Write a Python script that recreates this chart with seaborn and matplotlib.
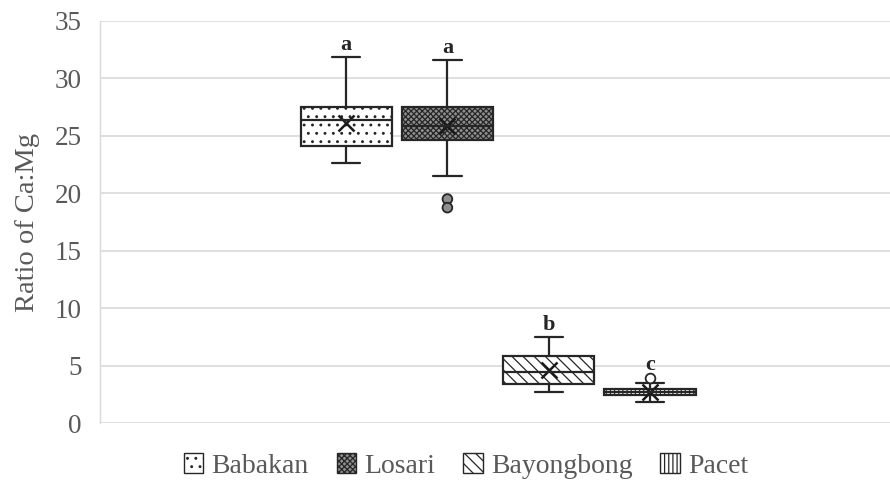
import numpy as np
import pandas as pd
import seaborn as sns
import matplotlib.pyplot as plt
from matplotlib.patches import Patch

# Five-number summaries of the Ca:Mg ratio per site
sites = ["Babakan", "Losari", "Bayongbong", "Pacet"]
whisker_low = [22.6, 21.5, 2.7, 1.8]
q1 = [24.1, 24.6, 3.4, 2.4]
median = [26.4, 25.9, 4.4, 2.7]
q3 = [27.5, 27.5, 5.8, 3.0]
whisker_high = [31.85, 31.6, 7.5, 3.5]
means = [26.1, 25.9, 4.6, 2.7]

# Points beyond the whiskers
outlier_site = ["Losari", "Losari", "Pacet"]
outlier_value = [19.5, 18.75, 3.95]

# Significance letters
letters = ["a", "a", "b", "c"]

face = {"Babakan": "white", "Losari": "#8f8f8f", "Bayongbong": "white", "Pacet": "white"}
hatch = {"Babakan": "..", "Losari": "xxxxxx", "Bayongbong": "\\\\\\", "Pacet": "||||"}
line_col = "#262626"
text_col = "#595959"

sns.set_theme(style="white")
plt.rcParams["font.family"] = ["Liberation Serif", "DejaVu Serif"]
plt.rcParams["hatch.linewidth"] = 0.9

summary = pd.DataFrame({
    "site": sites,
    "low": whisker_low,
    "q1": q1,
    "median": median,
    "q3": q3,
    "high": whisker_high,
})
long = summary.melt(id_vars="site", value_vars=["low", "q1", "median", "q3", "high"],
                    value_name="ratio")

fig = plt.figure(figsize=(8.9, 4.98), dpi=100)
ax = fig.add_axes([100 / 890, 1 - 423 / 498, 790 / 890, 402 / 498])

sns.boxplot(data=long, x="site", y="ratio", hue="site", order=sites, hue_order=sites,
            palette=face, whis=(0, 100), width=0.9, linecolor=line_col, linewidth=1.6,
            showfliers=False, legend=False, ax=ax, capwidths=0.28)

# Apply the fill patterns to each box
for p in ax.patches:
    xc = p.get_path().vertices[:, 0].mean()
    idx = int(round(xc))
    if 0 <= idx < len(sites):
        p.set_hatch(hatch[sites[idx]])
        p.set_edgecolor(line_col)

# Mean markers
sns.pointplot(x=sites, y=means, order=sites, marker="x", linestyle="none",
              color="#1a1a1a", markersize=11, markeredgewidth=1.8,
              errorbar=None, ax=ax)

# Outliers
sns.stripplot(x=outlier_site, y=outlier_value, order=sites, hue=outlier_site,
              palette=face, jitter=False, size=7, edgecolor=line_col, linewidth=1.3,
              legend=False, ax=ax)

# Letters above each box
for i, s in enumerate(sites):
    tops = [whisker_high[i]] + [v for o, v in zip(outlier_site, outlier_value) if o == s]
    ax.text(i, max(tops) + 0.2, letters[i], ha="center", va="bottom",
            fontsize=16, fontweight="bold", color=line_col)

ax.set_xlim(-2.43, 5.37)
ax.set_ylim(0, 35)
ax.set_yticks(np.arange(0, 36, 5))
ax.set_xticks([])
ax.set_xlabel("")
ax.set_ylabel("Ratio of Ca:Mg", fontsize=20.5, color=text_col, labelpad=11)
ax.tick_params(axis="y", labelsize=19.5, labelcolor=text_col, length=0, pad=13)
ax.yaxis.grid(True, color="#d9d9d9", linewidth=1.2)
ax.set_axisbelow(True)
for side in ["top", "right", "bottom"]:
    ax.spines[side].set_visible(False)
ax.spines["left"].set_color("#d9d9d9")
ax.spines["left"].set_linewidth(1.0)

handles = [Patch(facecolor=face[s], hatch=hatch[s], edgecolor=line_col, label=s)
           for s in sites]
fig.legend(handles=handles, loc="center", bbox_to_anchor=(466 / 890, 1 - 466 / 498),
           ncol=4, frameon=False, fontsize=20, handlelength=0.7, handleheight=0.7,
           handletextpad=0.3, columnspacing=1.0, labelcolor=text_col)

fig.savefig("out.png", dpi=100)
